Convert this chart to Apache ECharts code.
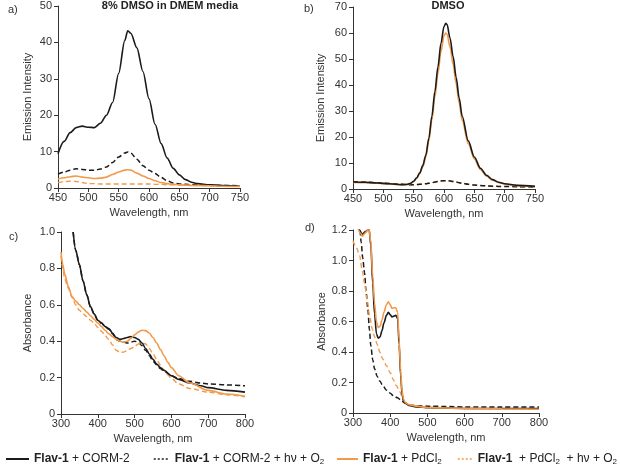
<!DOCTYPE html>
<html><head><meta charset="utf-8">
<script src="https://cdn.jsdelivr.net/npm/echarts@6/dist/echarts.min.js"></script>
<style>html,body{margin:0;padding:0;background:#fff}#c{width:620px;height:465px}</style>
</head><body><div id="c"></div>
<script>
// ---------- Panel a: 8% DMSO in DMEM media (emission) ----------
const aWl = [450,460,470,480,490,500,510,520,530,540,550,560,565,570,580,590,600,610,620,630,640,650,660,670,680,700,720,750];
const aCorm = [9.4,12.8,15.2,16.6,17,16.7,16.6,17.8,20,23.5,31.5,40.5,43.2,42.5,38.5,32,24.5,17.5,12.2,8.2,5.4,3.6,2.3,1.6,1.2,0.9,0.7,0.5];
const aCormHv = [3.8,4.4,4.9,5.3,5.1,4.9,4.9,5.2,5.8,7,8.5,9.6,9.9,9.6,7.9,6.1,4.9,4.0,2.9,2.0,1.4,1.1,1.0,0.9,0.85,0.75,0.7,0.6];
const aPd = [2.5,2.8,3.1,3.3,3.0,2.8,2.6,2.7,3.0,3.7,4.4,4.9,5.0,4.9,4.1,3.3,2.6,2.0,1.5,1.2,1.0,0.9,0.8,0.7,0.7,0.6,0.5,0.4];
const aPdHv = [1.5,1.7,1.9,1.8,1.5,1.2,1.2,1.1,1.1,1.1,1.1,1.1,1.1,1.1,1.1,1.1,1.1,1.0,1.0,0.9,0.9,0.8,0.8,0.7,0.7,0.6,0.5,0.5];

// ---------- Panel b: DMSO (emission) ----------
const bWl = [450,470,490,510,530,540,545,550,555,560,565,570,575,580,585,590,595,600,603,605,610,615,620,625,630,640,650,660,670,680,690,700,720,750];
const bCorm = [2.7,2.6,2.3,2.0,1.7,1.8,2.2,3.0,4.3,6.2,9,13,19.5,28,37.5,47,56,62.5,63.7,63.3,58,51,43,35,28,18.5,12.3,8,5.3,3.6,2.6,2.0,1.4,1.0];
const bCormHv = [2.8,2.6,2.4,2.1,1.8,1.6,1.6,1.6,1.7,1.8,1.9,2.0,2.2,2.4,2.7,2.9,3.1,3.2,3.2,3.2,3.1,2.9,2.7,2.4,2.2,1.8,1.5,1.3,1.2,1.1,1.0,1.0,0.9,0.8];
const bPd = [2.5,2.4,2.2,1.9,1.6,1.7,2.1,2.9,4.1,5.9,8.5,12.3,18.4,26.4,35.4,44.4,52.8,58.9,60,59.6,54.6,48,40.5,33,26.4,17.4,11.6,7.5,5.0,3.4,2.5,1.9,1.3,0.9];
const bPdHv = [2.8,2.6,2.4,2.1,1.8,1.6,1.6,1.6,1.7,1.8,1.9,2.0,2.2,2.4,2.7,2.9,3.1,3.2,3.2,3.2,3.1,2.9,2.7,2.4,2.2,1.8,1.5,1.3,1.2,1.1,1.0,1.0,0.9,0.8];

// ---------- Panel c: absorbance (8% DMSO in DMEM) ----------
const cBlackWl = [333,340,350,360,370,380,390,400,410,420,430,440,450,460,470,480,490,500,510,520,530,540,550,560,570,580,600,620,650,680,700,750,800];
const cCorm = [1.0,0.9,0.82,0.73,0.655,0.59,0.55,0.515,0.5,0.48,0.47,0.445,0.42,0.41,0.415,0.42,0.425,0.42,0.41,0.39,0.36,0.33,0.3,0.275,0.255,0.24,0.21,0.19,0.17,0.155,0.145,0.13,0.12];
const cCormHv = [1.0,0.9,0.82,0.73,0.655,0.59,0.55,0.515,0.5,0.48,0.465,0.44,0.41,0.40,0.395,0.39,0.395,0.4,0.395,0.375,0.35,0.32,0.29,0.27,0.25,0.235,0.21,0.195,0.18,0.17,0.165,0.16,0.155];
const cOrWl = [300,305,310,320,330,340,350,360,370,380,390,400,410,420,430,440,450,460,470,480,490,500,510,520,530,540,550,560,570,580,590,600,620,650,700,750,800];
const cPd = [0.89,0.82,0.77,0.7,0.645,0.62,0.6,0.58,0.56,0.54,0.52,0.5,0.48,0.46,0.44,0.425,0.41,0.4,0.395,0.4,0.415,0.435,0.45,0.46,0.458,0.445,0.42,0.39,0.355,0.32,0.285,0.255,0.21,0.17,0.13,0.11,0.098];
const cPdHv = [0.87,0.8,0.74,0.69,0.64,0.6,0.57,0.55,0.535,0.515,0.5,0.475,0.455,0.43,0.41,0.38,0.35,0.338,0.34,0.35,0.36,0.37,0.385,0.39,0.385,0.36,0.33,0.3,0.27,0.24,0.215,0.195,0.165,0.14,0.12,0.105,0.095];

// ---------- Panel d: absorbance (DMSO) ----------
const dSolidWl = [300,310,320,325,333,340,343,348,353,358,363,368,373,378,383,390,395,400,405,410,415,420,424,428,432,436,440,450,470,500,600,700,800];
const dCorm = [1.3,1.25,1.19,1.17,1.19,1.2,1.21,1.1,0.85,0.65,0.52,0.49,0.5,0.54,0.59,0.64,0.66,0.645,0.63,0.635,0.64,0.62,0.45,0.25,0.12,0.08,0.065,0.05,0.04,0.035,0.03,0.03,0.03];
const dPd = [1.26,1.22,1.18,1.16,1.18,1.2,1.21,1.12,0.9,0.72,0.6,0.56,0.57,0.61,0.66,0.71,0.73,0.71,0.685,0.69,0.69,0.66,0.48,0.28,0.14,0.09,0.07,0.055,0.045,0.035,0.03,0.028,0.025];
const dCormHvWl = [300,310,318,322,326,331,335,340,344,348,353,358,365,372,380,390,400,410,420,430,440,450,470,500,600,700,800];
const dCormHv = [1.4,1.33,1.22,1.12,1.02,0.92,0.8,0.68,0.55,0.44,0.35,0.29,0.24,0.21,0.18,0.15,0.13,0.11,0.1,0.08,0.065,0.055,0.048,0.045,0.04,0.04,0.04];
const dPdHvWl = [300,310,318,325,331,338,345,352,358,365,372,380,390,400,408,416,426,433,439,450,470,500,600,700,800];
const dPdHv = [1.13,1.08,1.03,0.93,0.85,0.74,0.63,0.55,0.5,0.45,0.4,0.355,0.31,0.265,0.22,0.18,0.14,0.1,0.07,0.055,0.045,0.035,0.03,0.028,0.025];

// ---------- Tick values ----------
const emisWlTicks = [450, 750, 50];
const absWlTicks = [300, 800, 100];
const aYTicks = [0, 50, 10];
const bYTicks = [0, 70, 10];
const cYTicks = [0, 1.0, 0.2];
const dYTicks = [0, 1.2, 0.2];

const NAMES = ['Flav-1 + CORM-2', 'Flav-1 + CORM-2 + hν + O2', 'Flav-1 + PdCl2', 'Flav-1 + PdCl2 + hν + O2'];
const BLACK = '#1b1b1b', ORANGE = '#f2994a';
const STY = [
  {color: BLACK, width: 1.6, type: 'solid'},
  {color: BLACK, width: 1.5, type: [5, 3]},
  {color: ORANGE, width: 1.6, type: 'solid'},
  {color: ORANGE, width: 1.4, type: [5, 3]}
];
const FONT = 'Liberation Sans, Arial, sans-serif';
const zip = (xs, ys) => xs.map((x, i) => [x, ys[i]]);

function ser(k, gi, data) {
  return {
    name: NAMES[k], type: 'line', xAxisIndex: gi, yAxisIndex: gi, data: data,
    showSymbol: false, symbol: 'none', smooth: 0.3, smoothMonotone: 'x',
    lineStyle: {color: STY[k].color, width: STY[k].width, type: STY[k].type},
    itemStyle: {color: STY[k].color}, silent: true, animation: false, z: 2 + (k % 2 === 0 ? 1 : 0)
  };
}

const axLine = {lineStyle: {color: '#333', width: 1}};
const axTick = {show: true, inside: false, length: 4, lineStyle: {color: '#333'}};
function xAx(gi, t) {
  return {type: 'value', gridIndex: gi, min: t[0], max: t[1], interval: t[2],
    name: 'Wavelength, nm', nameLocation: 'middle', nameGap: 19,
    nameTextStyle: {fontFamily: FONT, fontSize: 11, color: '#333'},
    axisLine: axLine, axisTick: axTick, splitLine: {show: false},
    axisLabel: {fontFamily: FONT, fontSize: 11, color: '#333', margin: 4}};
}
function yAx(gi, t, name, gap, dec) {
  return {type: 'value', gridIndex: gi, min: t[0], max: t[1], interval: t[2],
    name: name, nameLocation: 'middle', nameGap: gap,
    nameTextStyle: {fontFamily: FONT, fontSize: 11, color: '#333'},
    axisLine: axLine, axisTick: axTick, splitLine: {show: false},
    axisLabel: {fontFamily: FONT, fontSize: 11, color: '#333', margin: 6,
      formatter: v => (v === 0 ? '0' : (dec ? v.toFixed(1) : String(v)))}};
}

const series = [
  ser(0, 0, zip(aWl, aCorm)), ser(1, 0, zip(aWl, aCormHv)), ser(2, 0, zip(aWl, aPd)), ser(3, 0, zip(aWl, aPdHv)),
  ser(3, 1, zip(bWl, bPdHv)), ser(1, 1, zip(bWl, bCormHv)), ser(2, 1, zip(bWl, bPd)), ser(0, 1, zip(bWl, bCorm)),
  ser(0, 2, zip(cBlackWl, cCorm)), ser(1, 2, zip(cBlackWl, cCormHv)), ser(2, 2, zip(cOrWl, cPd)), ser(3, 2, zip(cOrWl, cPdHv)),
  ser(0, 3, zip(dSolidWl, dCorm)), ser(1, 3, zip(dCormHvWl, dCormHv)), ser(2, 3, zip(dSolidWl, dPd)), ser(3, 3, zip(dPdHvWl, dPdHv))
];
series[7].z = 5;

const RICH = {
  b: {fontFamily: FONT, fontSize: 12, fontWeight: 'bold', color: '#222'},
  n: {fontFamily: FONT, fontSize: 12, color: '#222'},
  s: {fontFamily: FONT, fontSize: 8, color: '#222', padding: [6, 0, 0, 0]}
};
const LEG_TEXT = {
  'Flav-1 + CORM-2': '{b|Flav-1}{n| + CORM-2}',
  'Flav-1 + CORM-2 + hν + O2': '{b|Flav-1}{n| + CORM-2 + hν + O}{s|2}',
  'Flav-1 + PdCl2': '{b|Flav-1}{n| + PdCl}{s|2}',
  'Flav-1 + PdCl2 + hν + O2': '{b|Flav-1}{n|  + PdCl}{s|2}{n|  + hν + O}{s|2}'
};
// [left, icon width, gap to text, dashed?]
const legPos = [[0, 23, 9, false], [148, 16, 5, true], [331, 21, 8, false], [452, 15, 10, true]];
const legends = NAMES.map((nm, i) => ({
  show: true, orient: 'horizontal',
  data: [nm], left: legPos[i][0], top: 448, itemWidth: legPos[i][1], itemHeight: 12, itemGap: legPos[i][2],
  selectedMode: false, formatter: n => LEG_TEXT[n], textStyle: {rich: RICH, fontFamily: FONT, fontSize: 12},
  itemStyle: {opacity: 0},
  lineStyle: legPos[i][3] ? {type: [2, 2], width: 1.5} : {width: 2}
}));

const option = {
  backgroundColor: '#fff',
  animation: false,
  grid: [
    {left: 58, top: 6, width: 182, height: 182},
    {left: 353, top: 7, width: 182, height: 182},
    {left: 61, top: 232, width: 184, height: 182},
    {left: 353, top: 230, width: 186, height: 183}
  ],
  xAxis: [xAx(0, emisWlTicks), xAx(1, emisWlTicks), xAx(2, absWlTicks), xAx(3, absWlTicks)],
  yAxis: [yAx(0, aYTicks, 'Emission Intensity', 25, false), yAx(1, bYTicks, 'Emission Intensity', 27, false),
          yAx(2, cYTicks, 'Absorbance', 28, true), yAx(3, dYTicks, 'Absorbance', 23, true)],
  legend: legends,
  graphic: [
    {type: 'text', x: 8, y: 10, style: {text: 'a)', font: '11px ' + FONT, fill: '#333', verticalAlign: 'middle'}},
    {type: 'text', x: 170, y: 6, style: {text: '8% DMSO in DMEM media', font: 'bold 11px ' + FONT, fill: '#222', align: 'center', verticalAlign: 'middle'}},
    {type: 'text', x: 304, y: 9, style: {text: 'b)', font: '11px ' + FONT, fill: '#333', verticalAlign: 'middle'}},
    {type: 'text', x: 448, y: 6, style: {text: 'DMSO', font: 'bold 11px ' + FONT, fill: '#222', align: 'center', verticalAlign: 'middle'}},
    {type: 'text', x: 9, y: 237, style: {text: 'c)', font: '11px ' + FONT, fill: '#333', verticalAlign: 'middle'}},
    {type: 'text', x: 305, y: 228, style: {text: 'd)', font: '11px ' + FONT, fill: '#333', verticalAlign: 'middle'}}
  ],
  series: series
};
const chart = echarts.init(document.getElementById('c'), null, {renderer: 'canvas'});
chart.setOption(option);
</script></body></html>
